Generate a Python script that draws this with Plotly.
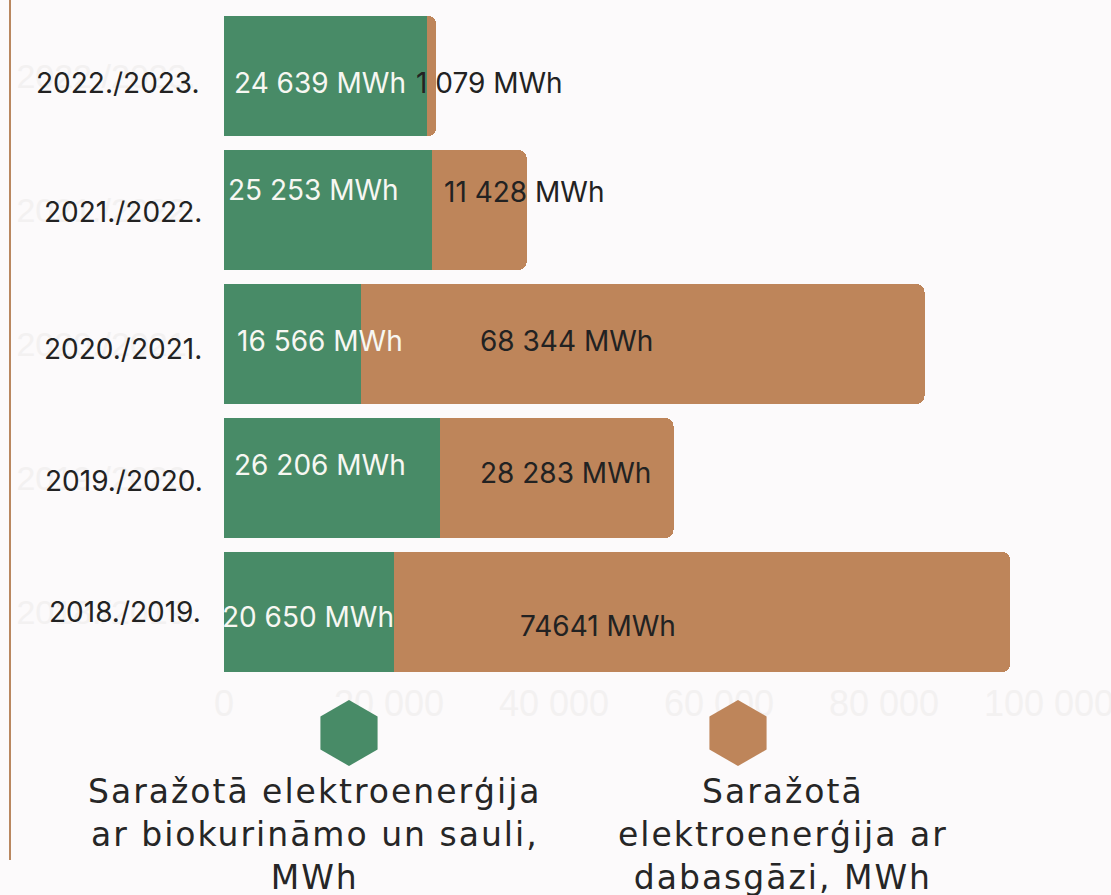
import plotly.graph_objects as go

# ---------------- data ----------------
categories = ["2018./2019.", "2019./2020.", "2020./2021.", "2021./2022.", "2022./2023."]
bio_solar = [20650, 26206, 16566, 25253, 24639]
natural_gas = [74641, 28283, 68344, 11428, 1079]
bio_labels = ["20 650 MWh", "26 206 MWh", "16 566 MWh", "25 253 MWh", "24 639 MWh"]
gas_labels = ["74641 MWh", "28 283 MWh", "68 344 MWh", "11 428 MWh", "1 079 MWh"]
series_names = ["Saražotā elektroenerģija<br>ar biokurināmo un sauli,<br>MWh",
                "Saražotā<br>elektroenerģija ar<br>dabasgāzi, MWh"]
x_ticks = [0, 20000, 40000, 60000, 80000, 100000]

# ---------------- label placement (not data) ----------------
bio_label_x = [10130, 11580, 11580, 10860, 11580]
bio_label_dy = [-5, 13, 3, 20, -7]
gas_label_x = [45360, 41380, 41500, 36310, 32210]
gas_label_dy = [-14, 5, 3, 18, -7]
cat_label_px = [125, 124, 123, 123, 118]
cat_label_dy = [0, -3, -5, -2, -7]

GREEN = "#488b67"
BROWN = "#be855a"
BG = "#fcfafb"
FAINT = "#f3f1f1"
FONT = "Inter"

W, H = 1111, 895
L, R, T, B = 224, 62, 9, 216   # plot area in pixels

fig = go.Figure()
fig.add_trace(go.Bar(y=categories, x=bio_solar, orientation="h", marker_color=GREEN,
                     marker_line_width=0, name="bio", hoverinfo="skip"))
fig.add_trace(go.Bar(y=categories, x=natural_gas, orientation="h", marker_color=BROWN,
                     marker_line_width=0, name="gas", hoverinfo="skip"))

# legend hexagons on a full-figure pixel-space overlay axis
legend_x_px = [349, 738]
legend_y_px = [733, 733]
fig.add_trace(go.Scatter(x=legend_x_px, y=legend_y_px, xaxis="x2", yaxis="y2", mode="markers",
                         marker=dict(symbol="hexagon", size=66, color=[GREEN, BROWN], line_width=0),
                         hoverinfo="skip", showlegend=False))

ann = []
for i, c in enumerate(categories):
    ann.append(dict(x=bio_label_x[i], y=c, xref="x", yref="y", text=bio_labels[i], showarrow=False,
                    xanchor="center", yshift=bio_label_dy[i],
                    font=dict(family=FONT, size=28, color="#f7f7f2")))
    ann.append(dict(x=gas_label_x[i], y=c, xref="x", yref="y", text=gas_labels[i], showarrow=False,
                    xanchor="center", yshift=gas_label_dy[i],
                    font=dict(family=FONT, size=28, color="#222222")))
    ann.append(dict(x=cat_label_px[i], y=c, xref="x2", yref="y", text=c, showarrow=False,
                    xanchor="center", yshift=cat_label_dy[i],
                    font=dict(family=FONT, size=28, color="#222222")))

legend_text_x = [315, 783]
for i, n in enumerate(series_names):
    ann.append(dict(x=legend_text_x[i], y=770, xref="x2", yref="y2", text=n, showarrow=False,
                    xanchor="center", yanchor="top", align="center",
                    font=dict(family="DejaVu Sans", size=33, color="#262626")))

fig.update_layout(
    width=W, height=H,
    margin=dict(l=0, r=0, t=0, b=0, pad=0, autoexpand=False),
    paper_bgcolor=BG, plot_bgcolor="rgba(0,0,0,0)",
    barmode="stack", bargap=0.104, barcornerradius=8,
    showlegend=False,
    separators=", ",
    xaxis=dict(domain=[L / W, 1 - R / W], range=[0, 100000], tickvals=x_ticks, tickformat=",d",
               showgrid=False, zeroline=False, showline=False, ticklabeloverflow="allow",
               automargin=False,
               tickfont=dict(family="Liberation Sans", size=36, color=FAINT), fixedrange=True),
    yaxis=dict(domain=[B / H, 1 - T / H], showgrid=False, zeroline=False, showline=False,
               ticklabelstandoff=27, ticklabeloverflow="allow", automargin=False,
               tickfont=dict(family="Liberation Sans", size=34, color=FAINT), fixedrange=True),
    xaxis2=dict(domain=[0, 1], range=[0, W], anchor="y2", visible=False, fixedrange=True,
                automargin=False),
    yaxis2=dict(domain=[0, 1], range=[H, 0], anchor="x2", visible=False, fixedrange=True,
                automargin=False),
    annotations=ann,
    shapes=[dict(type="line", xref="x2", yref="y2", x0=10, x1=10, y0=0, y1=860,
                 line=dict(color="#b9875f", width=2))],
)

post = (
    "document.body.style.margin='0';document.body.style.overflow='hidden';"
    "document.querySelectorAll('.annotation-text').forEach(function(t){"
    "if(t.textContent.indexOf('Sara')===0){t.style.letterSpacing='2px';}});"
)
fig.write_html("out.html", config={"displayModeBar": False}, post_script=post)
